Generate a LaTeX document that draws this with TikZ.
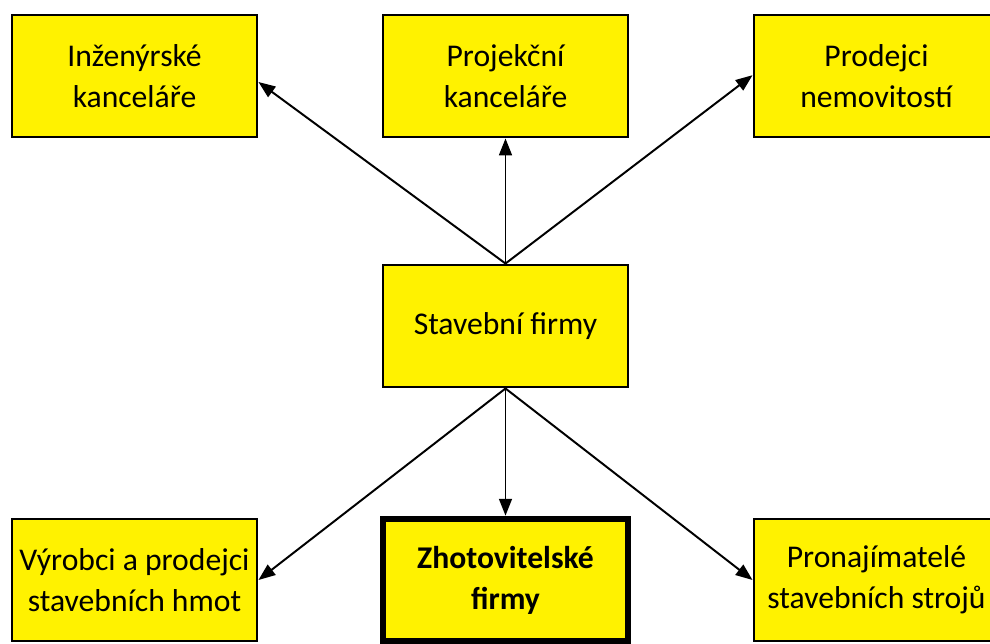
\documentclass[tikz,border=0pt]{standalone}
\usepackage{fontspec}
\setmainfont{Carlito}
\usetikzlibrary{positioning,arrows.meta}

\begin{document}
\begin{tikzpicture}[node distance=6.25cm,on grid,
    box/.style={draw,line width=2.1pt,fill=yellow,align=center,inner sep=0pt,
      minimum width=6.125cm,minimum height=3.05cm,
      font=\fontsize{22.5}{29}\selectfont},
    >={Triangle[length=4.2mm,width=3.2mm]}]
        \useasboundingbox (-12.6375,-7.925) rectangle (12.1125,8.15);
        \node[box] (firmy) {Stavební firmy};
        \node[box] (proj) [above=of firmy] {Projekční\\kanceláře};
        \node[box] (inz) [above left=6.25cm and 9.275cm of firmy] {Inženýrské\\kanceláře};
        \node[box] (nemo) [above right=6.25cm and 9.275cm of firmy] {Prodejci\\nemovitostí};
        \node[box,line width=4.8pt,font=\fontsize{22.5}{29}\selectfont\bfseries]
          (zhot) [below=6.35cm of firmy] {Zhotovitelské\\firmy};
        \node[box] (hmot) [below left=6.35cm and 9.275cm of firmy] {Výrobci a prodejci\\stavebních hmot};
        \node[box] (stroj) [below right=6.35cm and 9.275cm of firmy] {Pronajímatelé\\stavebních strojů};
        \path[->,line width=1.4pt]
        (firmy.north) edge ([yshift=-0.15cm]inz.east)
        edge (proj)
        edge ([yshift=0.02cm]nemo.west)
        (firmy.south) edge (hmot.east)
        edge (zhot)
        edge (stroj.west);
      \end{tikzpicture}
\end{document}
